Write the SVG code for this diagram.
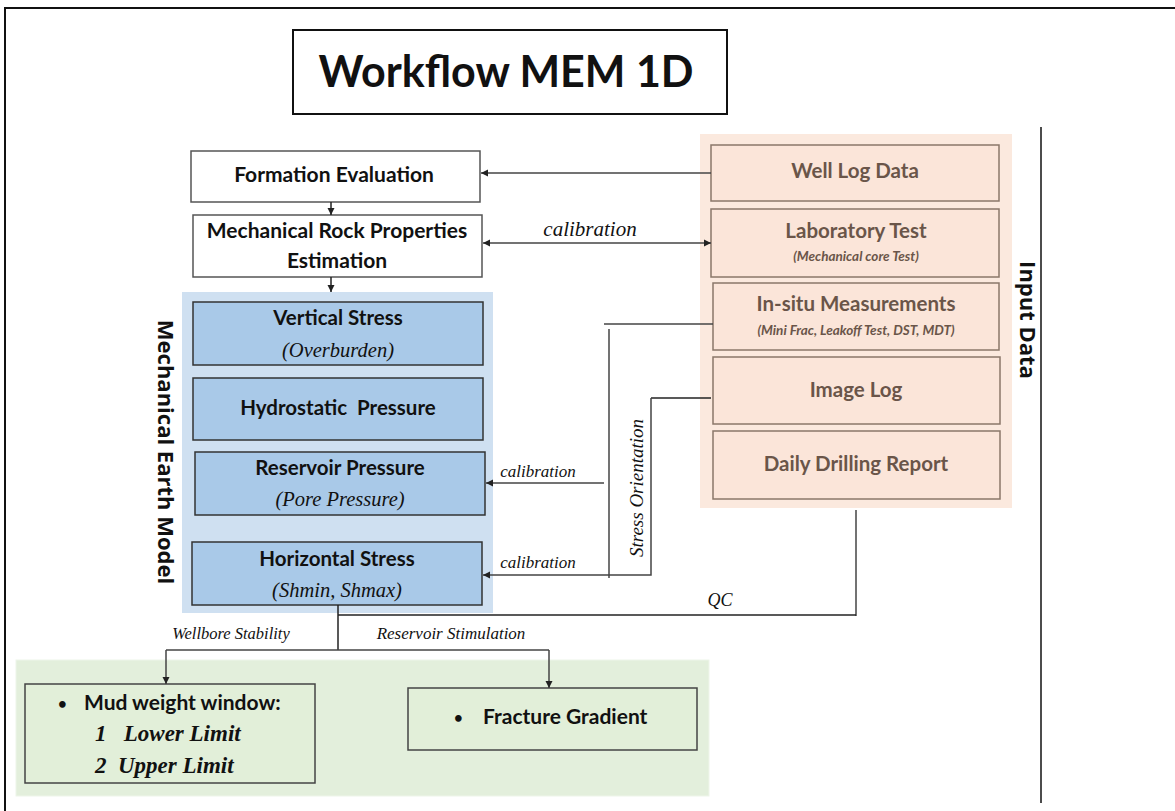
<svg xmlns="http://www.w3.org/2000/svg" width="1175" height="811" viewBox="0 0 1175 811">
<style>
.sans{font-family:Lato,"Liberation Sans",sans-serif;font-weight:bold}
.ar{font-family:"Open Sans","Liberation Sans",sans-serif;font-weight:bold}
.ser{font-family:"Liberation Serif",serif;font-style:italic}
.box{fill:#fff;stroke:#555;stroke-width:1.5}
.blue{fill:#a9c9e8;stroke:#333;stroke-width:1.5}
.inp{fill:#fbe5d9;stroke:#8b7769;stroke-width:1.5}
.grn{fill:#e2efd9;stroke:#444;stroke-width:1.5}
.ln{fill:none;stroke:#444;stroke-width:1.5}
.ln2{fill:none;stroke:#222;stroke-width:1.5}
.t{fill:#111;text-anchor:middle}
.ti{fill:#6a5549;text-anchor:middle}
</style>
<defs>
<marker id="ah" markerWidth="8" markerHeight="8" refX="7" refY="4" orient="auto" markerUnits="userSpaceOnUse">
<path d="M0,0.5 L7,4 L0,7.5 Z" fill="#222"/>
</marker>
<marker id="ahs" markerWidth="8" markerHeight="8" refX="1" refY="4" orient="auto" markerUnits="userSpaceOnUse">
<path d="M8,0.5 L1,4 L8,7.5 Z" fill="#222"/>
</marker>
</defs>
<rect x="0" y="0" width="1175" height="811" fill="#fff"/>
<path d="M5,811 L5,8 L1175,8" fill="none" stroke="#111" stroke-width="2"/>
<line x1="1041" y1="127" x2="1041" y2="803" stroke="#111" stroke-width="1.5"/>

<g id="title">
<rect x="293" y="30" width="434" height="84" fill="#fff" stroke="#111" stroke-width="2"/>
<text x="506" y="87" class="sans t" font-size="43">Workflow MEM 1D</text>
</g>

<g id="panels">
<rect x="182" y="292" width="311" height="321" fill="#cfe0f1"/>
<rect x="700" y="134" width="312" height="374" fill="#fbe9de"/>
<rect x="16" y="660" width="693" height="136" fill="#e3efdc" stroke="#eef5ea" stroke-width="1"/>
</g>

<g id="formation-evaluation">
<rect x="191" y="151" width="289" height="51" class="box"/>
<text x="334" y="182" class="sans t" font-size="21">Formation Evaluation</text>
</g>
<g id="mech-rock-props">
<rect x="193" y="215" width="289" height="62" class="box"/>
<text x="337" y="238" class="sans t" font-size="21">Mechanical Rock Properties</text>
<text x="337" y="268" class="sans t" font-size="21">Estimation</text>
</g>

<g id="mem-label">
<text transform="translate(158,452) rotate(90)" class="ar t" font-size="22">Mechanical Earth Model</text>
</g>
<g id="vertical-stress">
<rect x="193" y="302" width="290" height="63" class="blue"/>
<text x="338" y="325" class="sans t" font-size="20.5">Vertical Stress</text>
<text x="338" y="357" class="ser t" font-size="20.5" fill="#333">(Overburden)</text>
</g>
<g id="hydrostatic-pressure">
<rect x="193" y="378" width="290" height="62" class="blue"/>
<text x="338" y="415" class="sans t" font-size="20.5" xml:space="preserve">Hydrostatic  Pressure</text>
</g>
<g id="reservoir-pressure">
<rect x="195" y="452" width="290" height="63" class="blue"/>
<text x="340" y="475" class="sans t" font-size="20.5">Reservoir Pressure</text>
<text x="340" y="506" class="ser t" font-size="20.5" fill="#333">(Pore Pressure)</text>
</g>
<g id="horizontal-stress">
<rect x="192" y="542" width="290" height="63" class="blue"/>
<text x="337" y="566" class="sans t" font-size="20.5">Horizontal Stress</text>
<text x="337" y="597" class="ser t" font-size="20.5" fill="#333">(Shmin, Shmax)</text>
</g>

<g id="input-label">
<text transform="translate(1020,320) rotate(90)" class="ar t" font-size="22">Input Data</text>
</g>
<g id="well-log-data">
<rect x="711" y="145" width="288" height="56" class="inp"/>
<text x="855" y="178" class="sans ti" font-size="20.5">Well Log Data</text>
</g>
<g id="laboratory-test">
<rect x="711" y="209" width="288" height="68" class="inp"/>
<text x="856" y="238" class="sans ti" font-size="20.5">Laboratory Test</text>
<text x="856" y="261" class="sans ti" font-size="13.5" font-style="italic">(Mechanical core Test)</text>
</g>
<g id="in-situ-measurements">
<rect x="713" y="283" width="286" height="67" class="inp"/>
<text x="856" y="311" class="sans ti" font-size="20.5">In-situ Measurements</text>
<text x="856" y="335" class="sans ti" font-size="13.5" font-style="italic">(Mini Frac, Leakoff Test, DST, MDT)</text>
</g>
<g id="image-log">
<rect x="713" y="357" width="287" height="67" class="inp"/>
<text x="856" y="397" class="sans ti" font-size="20.5">Image Log</text>
</g>
<g id="daily-drilling-report">
<rect x="713" y="431" width="287" height="68" class="inp"/>
<text x="856" y="471" class="sans ti" font-size="20.5">Daily Drilling Report</text>
</g>

<g id="mud-weight-window">
<rect x="25" y="684" width="290" height="99" class="grn"/>
<text x="58" y="709" class="sans" font-size="15" fill="#111">•</text>
<text x="84" y="710" class="sans" font-size="21" fill="#111">Mud weight window:</text>
<text x="95" y="741" class="ser" font-weight="bold" font-size="23" fill="#111" xml:space="preserve">1   Lower Limit</text>
<text x="95" y="773" class="ser" font-weight="bold" font-size="23" fill="#111" xml:space="preserve">2  Upper Limit</text>
</g>
<g id="fracture-gradient">
<rect x="408" y="688" width="289" height="62" class="grn"/>
<text x="454" y="723" class="sans" font-size="15" fill="#111">•</text>
<text x="483" y="724" class="sans" font-size="21" fill="#111">Fracture Gradient</text>
</g>

<g id="connectors">
<line x1="711" y1="173" x2="481" y2="173" class="ln" marker-end="url(#ah)"/>
<line x1="331" y1="202" x2="331" y2="215" class="ln2" marker-end="url(#ah)"/>
<line x1="331" y1="277" x2="331" y2="292" class="ln2" marker-end="url(#ah)"/>
<line x1="483" y1="243" x2="711" y2="243" class="ln" marker-start="url(#ahs)" marker-end="url(#ah)"/>
<text x="590" y="236" class="ser t" font-size="21" fill="#333">calibration</text>
<line x1="713" y1="324" x2="604" y2="324" class="ln"/>
<line x1="609" y1="329" x2="609" y2="578" class="ln"/>
<line x1="604" y1="483" x2="486" y2="483" class="ln" marker-end="url(#ah)"/>
<text x="538" y="477" class="ser t" font-size="17" fill="#333">calibration</text>
<line x1="711" y1="398" x2="651" y2="398" class="ln2"/>
<polyline points="651,398 651,575 483,575" class="ln" marker-end="url(#ah)"/>
<text x="538" y="568" class="ser t" font-size="17" fill="#333">calibration</text>
<text transform="translate(643,488) rotate(-90)" class="ser t" font-size="19" fill="#333">Stress Orientation</text>
<line x1="856" y1="510" x2="856" y2="616" class="ln"/>
<line x1="338" y1="615" x2="856" y2="615" class="ln2"/>
<text x="720" y="606" class="ser t" font-size="18" fill="#333">QC</text>
<line x1="338" y1="605" x2="338" y2="650" class="ln2"/>
<polyline points="166,650 549,650" class="ln"/>
<line x1="166" y1="650" x2="166" y2="684" class="ln" marker-end="url(#ah)"/>
<line x1="549" y1="650" x2="549" y2="688" class="ln" marker-end="url(#ah)"/>
<text x="231" y="639" class="ser t" font-size="16.5" fill="#333">Wellbore Stability</text>
<text x="451" y="639" class="ser t" font-size="17" fill="#333">Reservoir Stimulation</text>
</g>
</svg>
